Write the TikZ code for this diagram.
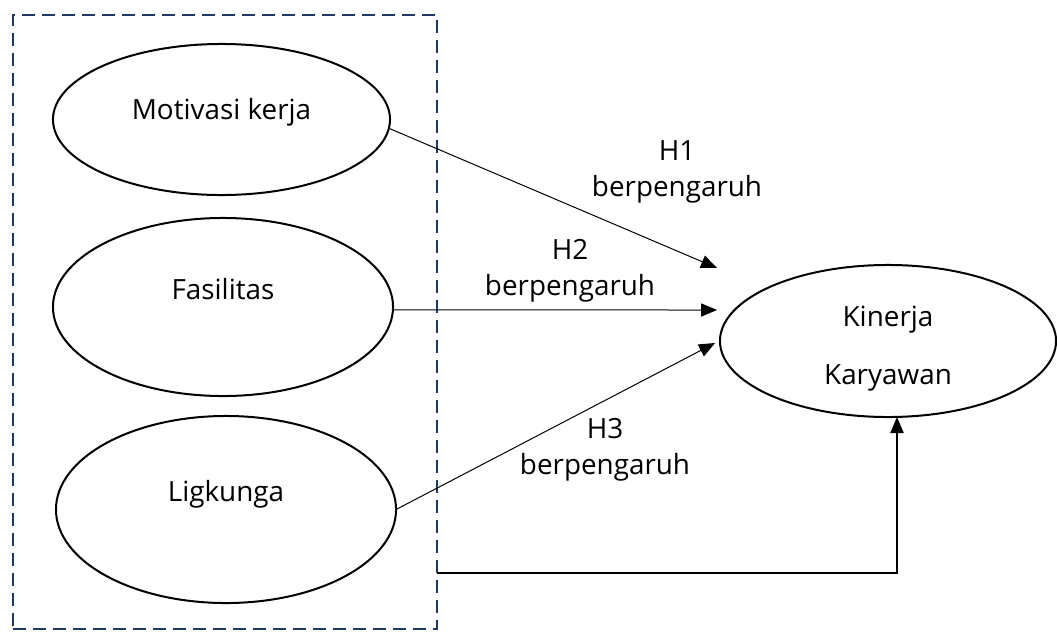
\documentclass[tikz,border=0pt]{standalone}
\usepackage{fontspec}
\setmainfont{Open Sans}
\usetikzlibrary{arrows.meta, shapes.geometric}

\tikzset{
  var/.style={ellipse, draw, line width=0.05cm, outer sep=0pt, inner sep=0pt, text height=0.5cm},
  link/.style={line width=0.025cm, -{Triangle[length=0.4cm, width=0.33cm]}},
  lbl/.style={align=center, inner sep=0pt}
}

\begin{document}
\begin{tikzpicture}[x=0.025cm, y=-0.025cm, font=\fontsize{19.8}{23}\selectfont]
\definecolor{group_color}{RGB}{31,56,100}

\useasboundingbox (0,0) rectangle (1057,631);

\node[draw=group_color, line width=0.05cm, dash pattern=on 0.325cm off 0.175cm,
      minimum width=10.6cm, minimum height=15.35cm, inner sep=0pt] (grp) at (225,322) {};

\node[var, minimum width=8.425cm, minimum height=3.775cm, text depth=0.49cm] (mot) at (221.5,119.5) {Motivasi kerja};
\node[var, minimum width=8.5cm, minimum height=4.45cm, text depth=0.89cm] (fas) at (223,307) {Fasilitas};
\node[var, minimum width=8.5cm, minimum height=4.675cm, text depth=0.9cm] (lig) at (226,509.5) {Ligkunga};

\node[var, minimum width=8.4cm, minimum height=3.8cm, text height=2.33cm, text depth=, align=center,
      font=\fontsize{19.8}{41}\selectfont] (kin) at (888,341) {Kinerja\\Karyawan};

\coordinate (h1end) at (717,268);
\coordinate (h2end) at (717,310);
\coordinate (h3end) at (715,343);
\coordinate (grpout) at (437,573);

\draw[link] (mot.-3) -- (h1end);
\draw[link] (fas.-1) -- (h2end);
\draw[link] (lig.east) -- (h3end);
\draw[link, line width=0.035cm] (grpout) -| ([xshift=0.225cm]kin.south);

\node[lbl] (h1) at (677,172) {H1\\[0.1cm]berpengaruh};
\node[lbl] (h2) at (570,271) {H2\\[0.1cm]berpengaruh};
\node[lbl] (h3) at (605,450) {H3\\[0.1cm]berpengaruh};

\end{tikzpicture}
\end{document}
